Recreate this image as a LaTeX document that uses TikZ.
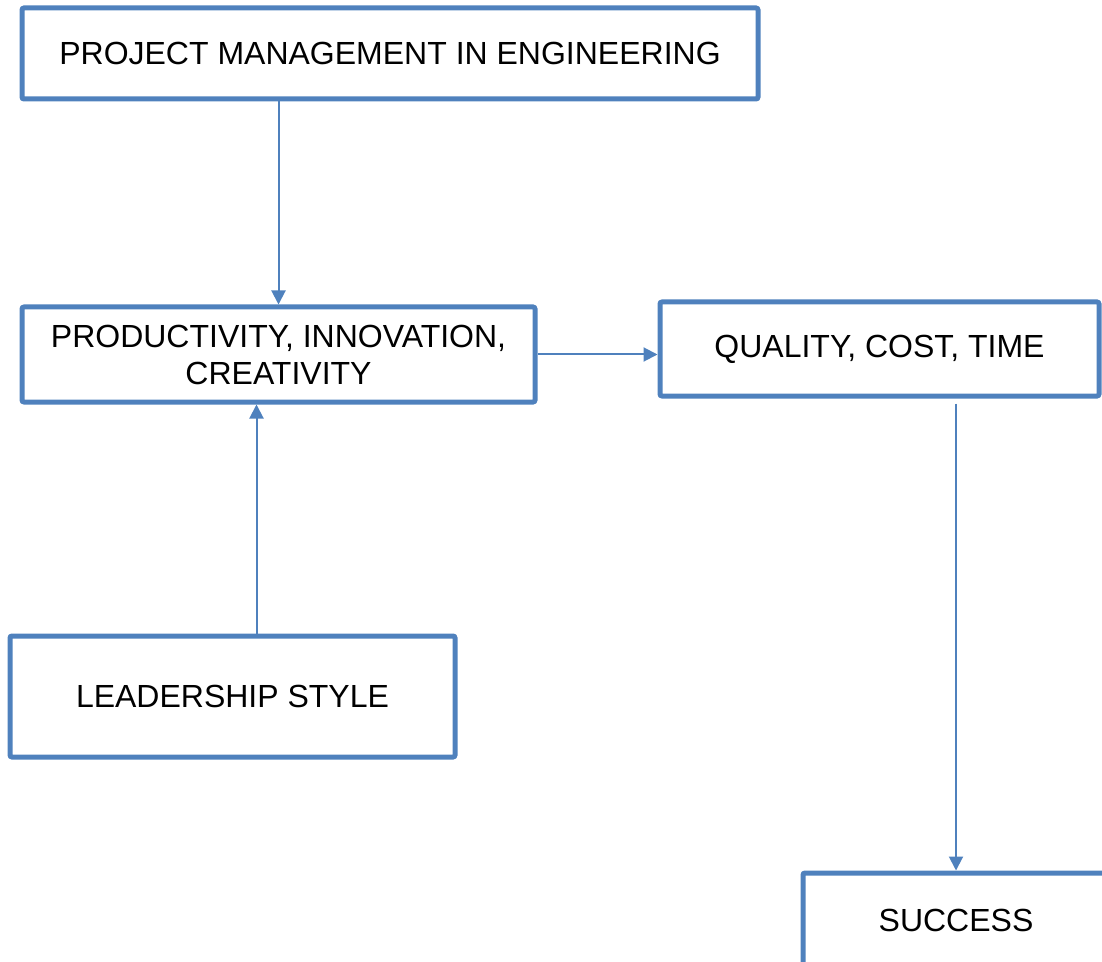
\documentclass[tikz,border=0pt]{standalone}
\usepackage{fontspec}
\setmainfont{Liberation Sans}
\usetikzlibrary{arrows.meta}
\definecolor{boxblue}{RGB}{79,129,189}

\begin{document}
\begin{tikzpicture}[x=0.5pt,y=-0.5pt,
		box/.style={draw=boxblue,line width=2.5pt,rounded corners=1pt,align=center,
			font=\fontsize{16}{18.5}\selectfont,inner sep=0pt},
		arr/.style={draw=boxblue,line width=1pt,-{Triangle[length=7pt,width=7pt]}}]
		\clip (0,0) rectangle (1102,962);
		\node[box,minimum width=368pt,minimum height=45.5pt] (proj) at (390,53.5)
			{PROJECT MANAGEMENT IN ENGINEERING};
		\node[box,minimum width=256.5pt,minimum height=47.5pt] (prod) at (278.5,354.5)
			{PRODUCTIVITY, INNOVATION,\\CREATIVITY};
		\node[box,minimum width=219.5pt,minimum height=47pt] (qual) at (879.5,349)
			{QUALITY, COST, TIME};
		\node[box,minimum width=222.5pt,minimum height=60.5pt] (lead) at (232.5,696.5)
			{LEADERSHIP STYLE};
		\node[box,minimum width=153pt,minimum height=47pt] (succ) at (956,920)
			{SUCCESS};
		\draw[arr] (prod.north |- proj.south) -- (prod.north);
		\coordinate (leadtop) at ([xshift=12pt]lead.north);
		\draw[arr] (leadtop) -- (leadtop |- prod.south);
		\draw[arr] (prod.east) -- (prod.east -| qual.west);
		\draw[arr] ([yshift=-2.5pt]qual.south -| succ.north) -- (succ.north);
	\end{tikzpicture}
\end{document}
